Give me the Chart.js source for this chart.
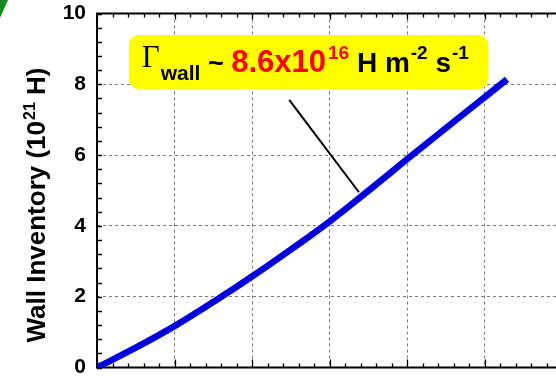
<!DOCTYPE html>
<html>
<head>
<meta charset="utf-8">
<script src="https://cdn.jsdelivr.net/npm/chart.js@4"></script>
<style>
  html, body { margin: 0; padding: 0; background: #fff; overflow: hidden; width: 556px; height: 380px; }
  #wrap { position: relative; width: 556px; height: 380px; overflow: hidden; }
  canvas { display: block; }
</style>
</head>
<body>
<div id="wrap"><canvas id="inventory" width="570" height="380"></canvas></div>
<script>
// Wall hydrogen inventory versus time
const timeValues      = [0, 0.5, 1, 1.5, 2, 2.5, 3, 3.5, 4, 4.5, 5, 5.29];
const inventoryValues = [0, 0.56, 1.17, 1.85, 2.57, 3.33, 4.12, 4.99, 5.88, 6.76, 7.63, 8.14];
const xTickValues = [0, 1, 2, 3, 4, 5, 6];
const yTickValues = [0, 2, 4, 6, 8, 10];
const yTitleParts = ['Wall Inventory (10', '21', ' H)'];
const fluxValue = '8.6x10';
const fluxExponent = '16';

const SANS = '"Liberation Sans", Arial, Helvetica, sans-serif';
const SERIF = '"Liberation Serif", "Times New Roman", serif';

// Axis frame with inward tick marks (left, bottom, top)
const framePlugin = {
  id: 'frame',
  beforeDatasetsDraw(chart) {
    const { ctx, chartArea: a, scales: { x, y } } = chart;
    ctx.save();
    ctx.strokeStyle = '#000';
    ctx.lineWidth = 2;
    ctx.beginPath();
    ctx.moveTo(a.left, a.top); ctx.lineTo(a.right, a.top);
    ctx.moveTo(a.left, a.top - 1); ctx.lineTo(a.left, a.bottom);
    ctx.lineTo(a.right, a.bottom);
    ctx.stroke();
    ctx.lineWidth = 1.3;
    ctx.beginPath();
    const xMax = xTickValues[xTickValues.length - 1];
    for (let k = 0; k <= xMax * 5; k++) {
      const px = Math.round(x.getPixelForValue(k / 5)) + 0.5;
      const major = k % 5 === 0;
      ctx.moveTo(px, a.bottom); ctx.lineTo(px, a.bottom - (major ? 8 : 4));
      ctx.moveTo(px, a.top); ctx.lineTo(px, a.top + (major ? 6 : 4));
    }
    for (let k = 0; k <= 25; k++) {
      const py = Math.round(y.getPixelForValue(k * 0.4)) + 0.5;
      ctx.moveTo(a.left, py); ctx.lineTo(a.left + 5, py);
    }
    ctx.stroke();
    ctx.restore();
  }
};

// Draw a run of text pieces left to right
function drawRun(ctx, x0, pieces) {
  let x = x0;
  pieces.forEach(p => {
    x += p.gap || 0;
    ctx.font = p.font;
    ctx.fillStyle = p.color;
    ctx.fillText(p.text, x, p.y);
    x += ctx.measureText(p.text).width;
  });
}

const labelPlugin = {
  id: 'labels',
  afterDatasetsDraw(chart) {
    const { ctx, scales: { x, y } } = chart;
    ctx.save();

    // leader line from the flux label to the curve
    ctx.strokeStyle = '#000';
    ctx.lineWidth = 2;
    ctx.beginPath();
    ctx.moveTo(x.getPixelForValue(2.48), y.getPixelForValue(7.56));
    ctx.lineTo(x.getPixelForValue(3.38), y.getPixelForValue(4.95));
    ctx.stroke();

    // yellow flux label
    const bx0 = x.getPixelForValue(0.41), bx1 = x.getPixelForValue(5.05);
    const by0 = y.getPixelForValue(9.39), by1 = y.getPixelForValue(7.87);
    ctx.fillStyle = '#FFFF00';
    ctx.beginPath();
    ctx.roundRect(bx0, by0, bx1 - bx0, by1 - by0, 10);
    ctx.fill();

    ctx.textBaseline = 'alphabetic';
    ctx.textAlign = 'left';
    const base = by0 + 37, sup = by0 + 24;
    drawRun(ctx, bx0 + 13, [
      { text: 'Γ', font: `31px ${SERIF}`, color: '#000', y: by0 + 32 },
      { text: 'wall', font: `bold 21px ${SANS}`, color: '#000', y: by0 + 45, gap: 1 },
      { text: ' ~ ', font: `bold 27px ${SANS}`, color: '#000', y: base },
      { text: fluxValue, font: `bold 31px ${SANS}`, color: '#FF0000', y: base },
      { text: fluxExponent, font: `bold 19px ${SANS}`, color: '#FF0000', y: sup, gap: 2 },
      { text: ' H m', font: `bold 28px ${SANS}`, color: '#000', y: base },
      { text: '-2', font: `bold 19px ${SANS}`, color: '#000', y: sup, gap: 1 },
      { text: ' s', font: `bold 28px ${SANS}`, color: '#000', y: base },
      { text: '-1', font: `bold 19px ${SANS}`, color: '#000', y: sup, gap: 1 }
    ]);
    ctx.restore();
  },
  afterDraw(chart) {
    const { ctx } = chart;
    ctx.save();
    // rotated y-axis title with superscript exponent
    ctx.translate(45, 205);
    ctx.rotate(-Math.PI / 2);
    ctx.textBaseline = 'alphabetic';
    const fMain = `bold 26px ${SANS}`, fSup = `bold 16px ${SANS}`;
    ctx.font = fMain;
    const w0 = ctx.measureText(yTitleParts[0]).width;
    const w2 = ctx.measureText(yTitleParts[2]).width;
    ctx.font = fSup;
    const w1 = ctx.measureText(yTitleParts[1]).width;
    let tx = -(w0 + w1 + w2 + 1) / 2;
    ctx.fillStyle = '#000';
    ctx.font = fMain; ctx.fillText(yTitleParts[0], tx, 0); tx += w0 + 1;
    ctx.font = fSup; ctx.fillText(yTitleParts[1], tx, -10); tx += w1;
    ctx.font = fMain; ctx.fillText(yTitleParts[2], tx, 0);
    ctx.restore();

    // green corner ornament
    ctx.save();
    ctx.fillStyle = '#168A1E';
    ctx.beginPath();
    ctx.moveTo(0, 0);
    ctx.lineTo(8, 0);
    ctx.quadraticCurveTo(4, 9, 0, 18);
    ctx.closePath();
    ctx.fill();
    ctx.restore();
  }
};

const points = timeValues.map((t, i) => ({ x: t, y: inventoryValues[i] }));

new Chart(document.getElementById('inventory'), {
  type: 'line',
  data: {
    datasets: [{
      data: points,
      borderColor: '#0000DE',
      borderWidth: 6.5,
      pointRadius: 0,
      tension: 0.4,
      fill: false
    }]
  },
  options: {
    responsive: false,
    animation: false,
    devicePixelRatio: 1,
    layout: { padding: { left: 0, right: 8, top: 13.5, bottom: 12.5 } },
    plugins: { legend: { display: false }, tooltip: { enabled: false } },
    scales: {
      x: {
        type: 'linear',
        min: xTickValues[0],
        max: xTickValues[xTickValues.length - 1],
        afterBuildTicks: s => { s.ticks = xTickValues.map(v => ({ value: v })); },
        afterFit: s => { s.height = 0; s.paddingLeft = 0; s.paddingRight = 0; },
        ticks: { display: false },
        grid: { color: '#7a7a7a', lineWidth: 1, drawTicks: false },
        border: { display: false, dash: [3, 3] }
      },
      y: {
        min: yTickValues[0],
        max: yTickValues[yTickValues.length - 1],
        afterBuildTicks: s => { s.ticks = yTickValues.map(v => ({ value: v })); },
        afterFit: s => { s.width = 97; s.paddingTop = 0; s.paddingBottom = 0; },
        ticks: {
          color: '#000',
          padding: 11,
          font: { family: SANS, size: 21, weight: 'bold' }
        },
        grid: { color: '#7a7a7a', lineWidth: 1, drawTicks: false },
        border: { display: false, dash: [3, 3] }
      }
    }
  },
  plugins: [framePlugin, labelPlugin]
});
</script>
</body>
</html>
